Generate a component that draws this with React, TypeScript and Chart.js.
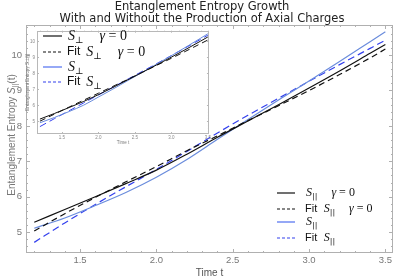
import React, { useEffect, useRef } from 'react';
import { Chart, registerables } from 'chart.js';
Chart.register(...registerables);

// ---------- data ----------
const timeValues = [1.2, 1.4, 1.6, 1.8, 2.0, 2.2, 2.4, 2.6, 2.8, 3.0, 3.2, 3.4, 3.5];
// main plot (S_parallel)
const sParallelGamma0 = [5.28, 5.64, 6.0, 6.37, 6.75, 7.2, 7.68, 8.14, 8.6, 9.07, 9.55, 10.05, 10.3];
const fitSParallelGamma0 = [5.03, 5.52, 5.98, 6.42, 6.85, 7.3, 7.72, 8.15, 8.57, 9.0, 9.45, 9.92, 10.17];
const sParallel = [5.11, 5.4, 5.75, 6.12, 6.55, 7.05, 7.62, 8.18, 8.73, 9.27, 9.82, 10.38, 10.66];
const fitSParallel = [4.71, 5.26, 5.78, 6.28, 6.77, 7.28, 7.8, 8.3, 8.78, 9.26, 9.73, 10.19, 10.42];
// inset (S_perp)
const sPerpGamma0 = [5.15, 5.5, 5.87, 6.25, 6.67, 7.12, 7.59, 8.06, 8.53, 9.01, 9.5, 10.01, 10.27];
const fitSPerpGamma0 = [5.02, 5.46, 5.9, 6.33, 6.76, 7.19, 7.62, 8.06, 8.5, 8.94, 9.39, 9.85, 10.08];
const sPerp = [4.92, 5.25, 5.62, 6.02, 6.52, 7.02, 7.54, 8.06, 8.58, 9.1, 9.64, 10.19, 10.47];
const fitSPerp = [4.68, 5.18, 5.67, 6.16, 6.65, 7.14, 7.63, 8.12, 8.61, 9.11, 9.61, 10.12, 10.38];

const xTickValues = [1.5, 2.0, 2.5, 3.0, 3.5];
const yTickValues = [5, 6, 7, 8, 9, 10];

const titleLines = ['Entanglement Entropy Growth', 'With and Without the Production of Axial Charges'];
const xAxisTitle = 'Time t';
const yAxisTitleMain = ['Entanglement Entropy ', 'S', '||', '(t)'];
const yAxisTitleInset = 'Entanglement Entropy S⊥(t)';

type LegendItem = { prefix: string; sym: string; sub: string; suffix: string };
const mainLegendItems: LegendItem[] = [
  { prefix: '', sym: 'S', sub: '||', suffix: 'γ = 0' },
  { prefix: 'Fit', sym: 'S', sub: '||', suffix: 'γ = 0' },
  { prefix: '', sym: 'S', sub: '||', suffix: '' },
  { prefix: 'Fit', sym: 'S', sub: '||', suffix: '' },
];
const insetLegendItems: LegendItem[] = [
  { prefix: '', sym: 'S', sub: '⊥', suffix: 'γ = 0' },
  { prefix: 'Fit', sym: 'S', sub: '⊥', suffix: 'γ = 0' },
  { prefix: '', sym: 'S', sub: '⊥', suffix: '' },
  { prefix: 'Fit', sym: 'S', sub: '⊥', suffix: '' },
];

// ---------- styles ----------
const BLACK = '#111111';
const BLUE_SOLID = '#6a8cdc';
const BLUE_DASH = '#3340ee';
const seriesStyles = [
  { color: BLACK, dash: [] as number[] },
  { color: BLACK, dash: [6, 4] },
  { color: BLUE_SOLID, dash: [] as number[] },
  { color: BLUE_DASH, dash: [7, 4] },
];

function makeDatasets(series: number[][], width: number) {
  return series.map((vals, i) => ({
    data: vals.map((y, j) => ({ x: timeValues[j], y })),
    borderColor: seriesStyles[i].color,
    borderDash: seriesStyles[i].dash,
    borderWidth: width,
    pointRadius: 0,
    fill: false,
    cubicInterpolationMode: 'monotone' as const,
  }));
}

function drawFrame(chart: any, minorX: number, minorY: number, majLen: number, minLen: number, color: string) {
  const { ctx, chartArea: a, scales } = chart;
  const xs = scales.x;
  const ys = scales.y;
  ctx.save();
  ctx.strokeStyle = color;
  ctx.lineWidth = 1;
  ctx.strokeRect(Math.round(a.left) + 0.5, Math.round(a.top) + 0.5, Math.round(a.right - a.left) - 1, Math.round(a.bottom - a.top) - 1);
  ctx.beginPath();
  const k0 = Math.ceil(xs.min / minorX - 1e-6);
  const k1 = Math.floor(xs.max / minorX + 1e-6);
  for (let k = k0; k <= k1; k++) {
    const v = k * minorX;
    const isMaj = xTickValues.some((m) => Math.abs(m - v) < 1e-6);
    const len = isMaj ? majLen : minLen;
    const px = Math.round(xs.getPixelForValue(v)) + 0.5;
    ctx.moveTo(px, a.bottom);
    ctx.lineTo(px, a.bottom - len);
    ctx.moveTo(px, a.top);
    ctx.lineTo(px, a.top + len);
  }
  const j0 = Math.ceil(ys.min / minorY - 1e-6);
  const j1 = Math.floor(ys.max / minorY + 1e-6);
  for (let k = j0; k <= j1; k++) {
    const v = k * minorY;
    const isMaj = yTickValues.some((m) => Math.abs(m - v) < 1e-6);
    const len = isMaj ? majLen : minLen;
    const py = Math.round(ys.getPixelForValue(v)) + 0.5;
    ctx.moveTo(a.left, py);
    ctx.lineTo(a.left + len, py);
    ctx.moveTo(a.right, py);
    ctx.lineTo(a.right - len, py);
  }
  ctx.stroke();
  ctx.restore();
}

type LegendOpts = {
  x0: number; x1: number; textX: number; rows: number[];
  sansSize: number; mathSize: number; subSize: number; fitGap: number; suffixGap: number; sampleDash: number[];
};

function drawLegend(ctx: CanvasRenderingContext2D, items: LegendItem[], o: LegendOpts) {
  ctx.save();
  items.forEach((it, i) => {
    const y = o.rows[i];
    const st = seriesStyles[i];
    ctx.beginPath();
    ctx.strokeStyle = st.color === BLUE_SOLID ? '#4f6ff0' : st.color;
    ctx.lineWidth = 1.2;
    ctx.setLineDash(st.dash.length ? o.sampleDash : []);
    ctx.moveTo(o.x0, y);
    ctx.lineTo(o.x1, y);
    ctx.stroke();
    ctx.setLineDash([]);
    ctx.fillStyle = '#111';
    ctx.textBaseline = 'middle';
    ctx.textAlign = 'left';
    let x = o.textX;
    if (it.prefix) {
      ctx.font = `${o.sansSize}px "Liberation Sans", Arial, sans-serif`;
      ctx.fillText(it.prefix, x, y);
      x += ctx.measureText(it.prefix).width + o.fitGap;
    } else {
      x += 1;
    }
    ctx.font = `italic ${o.mathSize}px "Liberation Serif", "DejaVu Serif", serif`;
    ctx.fillText(it.sym, x, y);
    x += ctx.measureText(it.sym).width;
    ctx.font = `${o.subSize}px "DejaVu Serif", "Liberation Serif", serif`;
    ctx.fillText(it.sub, x, y + o.mathSize * 0.3);
    x += ctx.measureText(it.sub).width;
    if (it.suffix) {
      x += o.suffixGap;
      const g = it.suffix.charAt(0);
      const rest = it.suffix.slice(1);
      ctx.font = `italic ${o.mathSize}px "Liberation Serif", "DejaVu Serif", serif`;
      ctx.fillText(g, x, y);
      x += ctx.measureText(g).width;
      ctx.font = `${o.mathSize}px "Liberation Serif", "DejaVu Serif", serif`;
      ctx.fillText(rest, x, y);
    }
  });
  ctx.restore();
}

function tickCallback(v: any) {
  return Number(v).toFixed(1);
}

function mainConfig(): any {
  return {
    type: 'line',
    data: {
      datasets: makeDatasets([sParallelGamma0, fitSParallelGamma0, sParallel, fitSParallel], 1.2),
    },
    options: {
      animation: false,
      responsive: false,
      layout: { padding: { top: 25, right: 2, left: 0, bottom: 0 } },
      plugins: { legend: { display: false }, tooltip: { enabled: false }, title: { display: false } },
      scales: {
        x: {
          type: 'linear',
          min: 1.146,
          max: 3.55,
          afterBuildTicks: (s: any) => { s.ticks = xTickValues.map((v) => ({ value: v })); },
          afterFit: (s: any) => { s.height = 27; },
          ticks: { font: { family: 'Liberation Sans', size: 9.5 }, color: '#777', padding: 2, maxRotation: 0, autoSkip: false, callback: tickCallback },
          grid: { display: false, drawTicks: false },
          border: { display: false },
          title: { display: true, text: xAxisTitle, font: { family: 'Liberation Sans', size: 10 }, color: '#555', padding: { top: 0, bottom: 1 } },
        },
        y: {
          type: 'linear',
          min: 4.41,
          max: 10.85,
          afterBuildTicks: (s: any) => { s.ticks = yTickValues.map((v) => ({ value: v })); },
          afterFit: (s: any) => { s.width = 26; },
          ticks: { font: { family: 'Liberation Sans', size: 9.5 }, color: '#777', padding: 4, autoSkip: false, callback: (v: any) => String(v) },
          grid: { display: false, drawTicks: false },
          border: { display: false },
          title: { display: false },
        },
      },
    },
    plugins: [
      {
        id: 'mainDecor',
        afterDraw(chart: any) {
          const ctx = chart.ctx as CanvasRenderingContext2D;
          drawFrame(chart, 0.1, 0.2, 4, 2, '#b0b0b0');
          // title
          ctx.save();
          ctx.fillStyle = '#222';
          ctx.font = '11.5px "DejaVu Sans", sans-serif';
          ctx.textAlign = 'center';
          ctx.textBaseline = 'middle';
          ctx.fillText(titleLines[0], 202, 7);
          ctx.fillText(titleLines[1], 202, 19);
          ctx.restore();
          // y axis title (rich)
          ctx.save();
          ctx.translate(12, 135);
          ctx.rotate(-Math.PI / 2);
          ctx.fillStyle = '#777';
          ctx.textBaseline = 'middle';
          ctx.textAlign = 'left';
          const fMain = '10px "Liberation Sans", Arial, sans-serif';
          const fIt = 'italic 10px "Liberation Sans", Arial, sans-serif';
          const fSub = '7px "Liberation Sans", Arial, sans-serif';
          const fonts = [fMain, fIt, fSub, fMain];
          let total = 0;
          yAxisTitleMain.forEach((t, i) => { ctx.font = fonts[i]; total += ctx.measureText(t).width; });
          let x = -total / 2;
          yAxisTitleMain.forEach((t, i) => {
            ctx.font = fonts[i];
            ctx.fillText(t, x, i === 2 ? 3 : 0);
            x += ctx.measureText(t).width;
          });
          ctx.restore();
          drawLegend(ctx, mainLegendItems, {
            x0: 277, x1: 295, textX: 305, rows: [193, 209, 222, 238],
            sansSize: 11, mathSize: 12, subSize: 8, fitGap: 6.5, suffixGap: 14, sampleDash: [3, 2],
          });
        },
      },
    ],
  };
}

function insetConfig(): any {
  return {
    type: 'line',
    data: {
      datasets: makeDatasets([sPerpGamma0, fitSPerpGamma0, sPerp, fitSPerp], 1),
    },
    options: {
      animation: false,
      responsive: false,
      layout: { padding: { top: 1, right: 3, left: 0, bottom: 0 } },
      plugins: { legend: { display: false }, tooltip: { enabled: false }, title: { display: false } },
      scales: {
        x: {
          type: 'linear',
          min: 1.16,
          max: 3.515,
          afterBuildTicks: (s: any) => { s.ticks = xTickValues.map((v) => ({ value: v })); },
          afterFit: (s: any) => { s.height = 14; },
          ticks: { font: { family: 'Liberation Sans', size: 4.5 }, color: '#888', padding: 1, maxRotation: 0, autoSkip: false, callback: tickCallback },
          grid: { display: false, drawTicks: false },
          border: { display: false },
          title: { display: true, text: xAxisTitle, font: { family: 'Liberation Sans', size: 4.5 }, color: '#777', padding: { top: 0, bottom: 2.3 } },
        },
        y: {
          type: 'linear',
          min: 4.22,
          max: 10.66,
          afterBuildTicks: (s: any) => { s.ticks = yTickValues.map((v) => ({ value: v })); },
          afterFit: (s: any) => { s.width = 15; },
          ticks: { font: { family: 'Liberation Sans', size: 4.5 }, color: '#888', padding: 2, autoSkip: false, callback: (v: any) => String(v) },
          grid: { display: false, drawTicks: false },
          border: { display: false },
          title: { display: true, text: yAxisTitleInset, font: { family: 'Liberation Sans', size: 4.5 }, color: '#777', padding: { top: 3.3, bottom: 0 } },
        },
      },
    },
    plugins: [
      {
        id: 'insetDecor',
        afterDraw(chart: any) {
          const ctx = chart.ctx as CanvasRenderingContext2D;
          drawFrame(chart, 0.1, 0.2, 2, 1, '#b8b8b8');
          drawLegend(ctx, insetLegendItems, {
            x0: 21, x1: 40, textX: 45, rows: [10, 26, 41, 56],
            sansSize: 12, mathSize: 14, subSize: 9, fitGap: 6, suffixGap: 16, sampleDash: [3, 2],
          });
        },
      },
    ],
  };
}

export default function App() {
  const mainRef = useRef<HTMLCanvasElement>(null);
  const insetRef = useRef<HTMLCanvasElement>(null);
  useEffect(() => {
    const main = new Chart(mainRef.current as HTMLCanvasElement, mainConfig());
    const inset = new Chart(insetRef.current as HTMLCanvasElement, insetConfig());
    return () => {
      main.destroy();
      inset.destroy();
    };
  }, []);
  return (
    <div style={{ position: 'fixed', left: 0, top: 0, width: 395, height: 280, background: '#fff' }}>
      <canvas ref={mainRef} width={395} height={280} style={{ position: 'absolute', left: 0, top: 0 }} />
      <canvas ref={insetRef} width={190} height={122} style={{ position: 'absolute', left: 22, top: 26 }} />
    </div>
  );
}
